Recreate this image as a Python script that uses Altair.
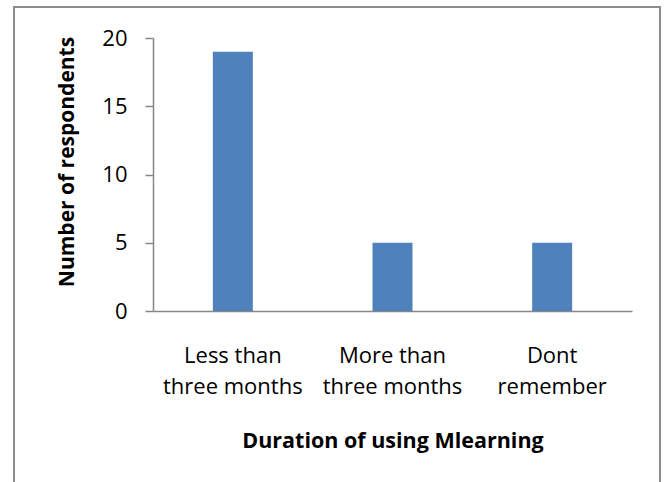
import altair as alt
import pandas as pd

# Survey responses: how long each respondent has been using mobile learning
categories = ["Less than|three months", "More than|three months", "Dont|remember"]
respondents = [19, 5, 5]
y_ticks = [0, 5, 10, 15, 20]

df = pd.DataFrame({"duration": categories, "count": respondents})

FONT = "Open Sans"
BAR_COLOR = "#4f81bd"
AXIS_GRAY = "#868686"

bars = alt.Chart(df).mark_bar(size=40, color=BAR_COLOR).encode(
    x=alt.X(
        "duration:N",
        sort=categories,
        scale=alt.Scale(paddingInner=0, paddingOuter=0),
        axis=alt.Axis(
            title="Duration of using Mlearning",
            labelAngle=0,
            labelExpr="split(datum.label, '|')",
            labelFont=FONT,
            labelFontSize=22,
            labelColor="#000000",
            labelLineHeight=31.5,
            labelPadding=51,
            labelBaseline="alphabetic",
            ticks=False,
            domainColor=AXIS_GRAY,
            domainWidth=1.5,
            titleFont=FONT,
            titleFontSize=21.5,
            titleFontWeight="bold",
            titleColor="#000000",
            titleBaseline="alphabetic",
            titleY=136,
        ),
    ),
    y=alt.Y(
        "count:Q",
        scale=alt.Scale(domain=[0, 20], nice=False),
        axis=alt.Axis(
            title="Number of respondents",
            values=y_ticks,
            grid=False,
            tickSize=8,
            tickColor=AXIS_GRAY,
            tickWidth=1.5,
            domainColor=AXIS_GRAY,
            domainWidth=1.5,
            labelFont=FONT,
            labelFontSize=22,
            labelColor="#000000",
            labelPadding=18,
            titleFont=FONT,
            titleFontSize=21,
            titleFontWeight="bold",
            titleColor="#000000",
            titleAngle=-90,
            titleAlign="center",
            titleBaseline="middle",
            titleX=-86,
            titleY=123.5,
        ),
    ),
)

# Outer frame around the whole figure
frame = alt.Chart(df).mark_rect(
    fill=None, stroke="#8c8c8c", strokeWidth=2, clip=False
).encode(
    x=alt.value(-139),
    x2=alt.value(507),
    y=alt.value(-31),
    y2=alt.value(460),
)

chart = (
    alt.layer(frame, bars)
    .properties(
        width=479,
        height=273,
        autosize=alt.AutoSizeParams(type="none"),
        padding={"left": 153, "top": 38, "right": 32, "bottom": 171},
        background="white",
    )
    .configure_view(stroke=None)
)

chart.save("out.html", embed_options={"renderer": "svg", "actions": False})
